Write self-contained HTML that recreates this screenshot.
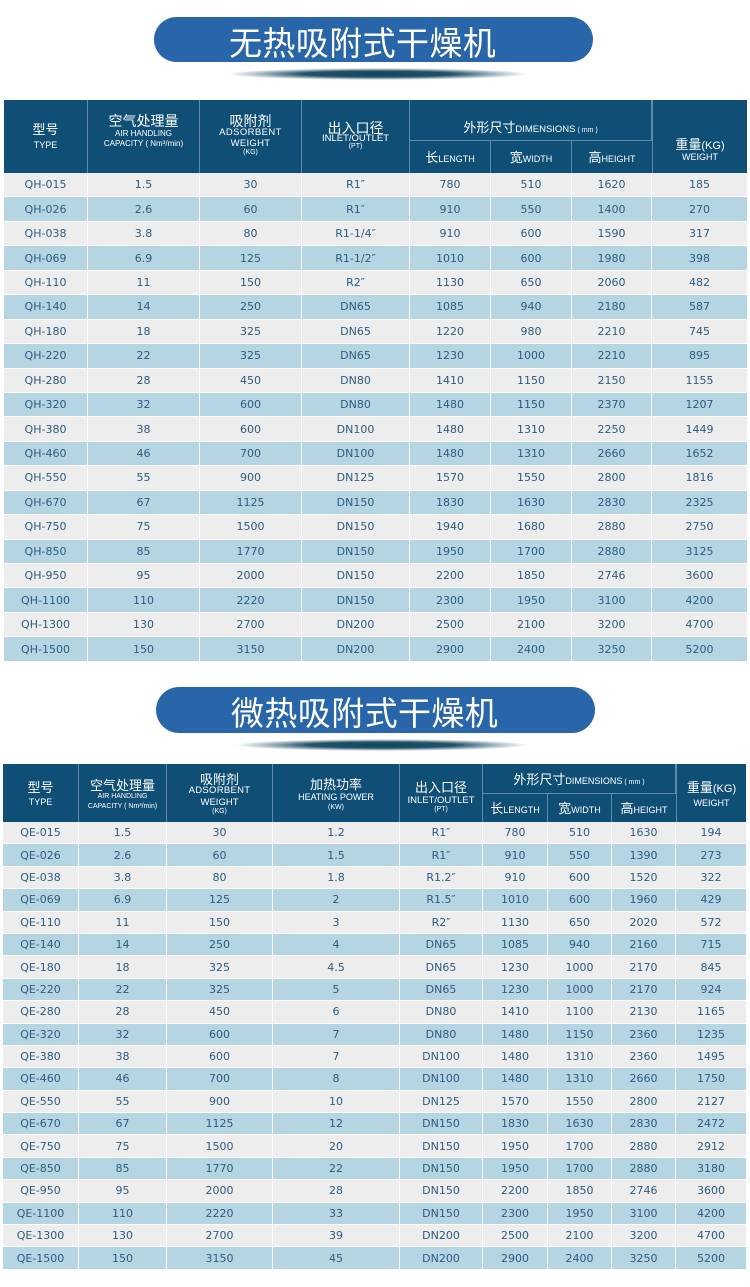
<!DOCTYPE html>
<html><head><meta charset="utf-8">
<style>
*{margin:0;padding:0;box-sizing:border-box}
html,body{width:750px;height:1287px;background:#fff;overflow:hidden;position:relative;font-family:"Liberation Sans","Noto Sans CJK SC",sans-serif}
.pill{position:absolute;background:#2866a9;border-radius:24px}
.ptxt{position:absolute;color:#fff;font-family:"Noto Sans CJK SC","WenQuanYi Zen Hei",sans-serif;font-size:33px;line-height:46px;white-space:nowrap;letter-spacing:0.4px}
.shadow{position:absolute;background:radial-gradient(ellipse closest-side,rgba(16,68,92,1) 0%,rgba(16,68,92,.92) 50%,rgba(16,68,92,.35) 80%,rgba(16,68,92,0) 100%)}
.g{position:absolute;display:grid}
.g>div.h{background:#0f4f76;color:#fff;display:flex;flex-direction:column;align-items:center;justify-content:center;text-align:center;border-right:1px solid rgba(255,255,255,.35);white-space:nowrap}
.g>div.h.last{border-right:none}
.h .cn{font-family:"Liberation Sans","Noto Sans CJK SC",sans-serif;font-size:13px}
.h .en{font-size:9px}
.h .sm{font-size:7px}
.r{display:contents}
.r>div{display:flex;align-items:center;justify-content:center;color:#2e5b80;font-family:"DejaVu Sans","Liberation Sans",sans-serif;font-size:11px;border-right:1px solid #fff;border-bottom:1px solid #fff;white-space:nowrap}
.r>div:last-child{border-right:none}
.r.a>div{background:#ededed}
.r.b>div{background:#b6d5e3}
.s{border-top:1px solid rgba(255,255,255,.35)}
</style></head><body>

<!-- Title 1 -->
<div class="pill" style="left:154px;top:17px;width:439px;height:45px"></div>
<div class="ptxt" style="left:229px;top:18px">无热吸附式干燥机</div>
<div class="shadow" style="left:228px;top:68px;width:300px;height:12px"></div>

<!-- Table 1 -->
<div class="g" style="left:4px;top:100px;width:743px;grid-template-columns:84px 112px 102px 108px 81px 81px 80px 95px;grid-template-rows:40px 33px repeat(20,24.45px)">
  <div class="h" style="grid-row:1/3;grid-column:1"><span class="cn" style="line-height:16px">型号</span><span class="en" style="line-height:14px">TYPE</span></div>
  <div class="h" style="grid-row:1/3;grid-column:2;padding-bottom:11px"><span class="cn" style="line-height:16px;font-size:14px">空气处理量</span><span style="font-size:8px;line-height:10px">AIR HANDLING</span><span style="font-size:8px;line-height:10px">CAPACITY ( Nm³/min)</span></div>
  <div class="h" style="grid-row:1/3;grid-column:3;padding-bottom:3px"><span class="cn" style="line-height:14px;font-size:14px">吸附剂</span><span class="en" style="line-height:9px;font-size:9.5px;letter-spacing:.4px">ADSORBENT</span><span class="en" style="line-height:13px;font-size:9.5px;letter-spacing:.3px">WEIGHT</span><span class="sm" style="line-height:6px">(KG)</span></div>
  <div class="h" style="grid-row:1/3;grid-column:4"><span class="cn" style="line-height:12px;font-size:14px">出入口径</span><span class="en" style="line-height:9px;font-size:9.5px">INLET/OUTLET</span><span class="sm" style="line-height:8px">(PT)</span></div>
  <div class="h" style="grid-row:1;grid-column:5/8;padding-top:14px"><span><span class="cn">外形尺寸</span><span style="font-size:9.5px">DIMENSIONS</span><span class="sm"> ( mm )</span></span></div>
  <div class="h last" style="grid-row:1/3;grid-column:8;padding-top:27px;border-left:1px solid rgba(255,255,255,.35)"><span class="cn" style="line-height:12px">重量<span style="font-size:11px">(KG)</span></span><span class="en" style="line-height:10px">WEIGHT</span></div>
  <div class="h s" style="grid-row:2;grid-column:5"><span><span class="cn">长</span><span class="en">LENGTH</span></span></div>
  <div class="h s" style="grid-row:2;grid-column:6"><span><span class="cn">宽</span><span class="en">WIDTH</span></span></div>
  <div class="h s" style="grid-row:2;grid-column:7;border-right:none"><span><span class="cn">高</span><span class="en">HEIGHT</span></span></div>

  <div class="r a"><div>QH-015</div><div>1.5</div><div>30</div><div>R1″</div><div>780</div><div>510</div><div>1620</div><div>185</div></div>
  <div class="r b"><div>QH-026</div><div>2.6</div><div>60</div><div>R1″</div><div>910</div><div>550</div><div>1400</div><div>270</div></div>
  <div class="r a"><div>QH-038</div><div>3.8</div><div>80</div><div>R1-1/4″</div><div>910</div><div>600</div><div>1590</div><div>317</div></div>
  <div class="r b"><div>QH-069</div><div>6.9</div><div>125</div><div>R1-1/2″</div><div>1010</div><div>600</div><div>1980</div><div>398</div></div>
  <div class="r a"><div>QH-110</div><div>11</div><div>150</div><div>R2″</div><div>1130</div><div>650</div><div>2060</div><div>482</div></div>
  <div class="r b"><div>QH-140</div><div>14</div><div>250</div><div>DN65</div><div>1085</div><div>940</div><div>2180</div><div>587</div></div>
  <div class="r a"><div>QH-180</div><div>18</div><div>325</div><div>DN65</div><div>1220</div><div>980</div><div>2210</div><div>745</div></div>
  <div class="r b"><div>QH-220</div><div>22</div><div>325</div><div>DN65</div><div>1230</div><div>1000</div><div>2210</div><div>895</div></div>
  <div class="r a"><div>QH-280</div><div>28</div><div>450</div><div>DN80</div><div>1410</div><div>1150</div><div>2150</div><div>1155</div></div>
  <div class="r b"><div>QH-320</div><div>32</div><div>600</div><div>DN80</div><div>1480</div><div>1150</div><div>2370</div><div>1207</div></div>
  <div class="r a"><div>QH-380</div><div>38</div><div>600</div><div>DN100</div><div>1480</div><div>1310</div><div>2250</div><div>1449</div></div>
  <div class="r b"><div>QH-460</div><div>46</div><div>700</div><div>DN100</div><div>1480</div><div>1310</div><div>2660</div><div>1652</div></div>
  <div class="r a"><div>QH-550</div><div>55</div><div>900</div><div>DN125</div><div>1570</div><div>1550</div><div>2800</div><div>1816</div></div>
  <div class="r b"><div>QH-670</div><div>67</div><div>1125</div><div>DN150</div><div>1830</div><div>1630</div><div>2830</div><div>2325</div></div>
  <div class="r a"><div>QH-750</div><div>75</div><div>1500</div><div>DN150</div><div>1940</div><div>1680</div><div>2880</div><div>2750</div></div>
  <div class="r b"><div>QH-850</div><div>85</div><div>1770</div><div>DN150</div><div>1950</div><div>1700</div><div>2880</div><div>3125</div></div>
  <div class="r a"><div>QH-950</div><div>95</div><div>2000</div><div>DN150</div><div>2200</div><div>1850</div><div>2746</div><div>3600</div></div>
  <div class="r b"><div>QH-1100</div><div>110</div><div>2220</div><div>DN150</div><div>2300</div><div>1950</div><div>3100</div><div>4200</div></div>
  <div class="r a"><div>QH-1300</div><div>130</div><div>2700</div><div>DN200</div><div>2500</div><div>2100</div><div>3200</div><div>4700</div></div>
  <div class="r b"><div>QH-1500</div><div>150</div><div>3150</div><div>DN200</div><div>2900</div><div>2400</div><div>3250</div><div>5200</div></div>
</div>

<!-- Title 2 -->
<div class="pill" style="left:156px;top:687px;width:439px;height:46px"></div>
<div class="ptxt" style="left:231px;top:688px">微热吸附式干燥机</div>
<div class="shadow" style="left:236px;top:739px;width:292px;height:12px"></div>

<!-- Table 2 -->
<div class="g" style="left:3px;top:764px;width:743px;grid-template-columns:76px 88px 106px 127px 83px 65px 64px 64px 70px;grid-template-rows:29px 29px repeat(20,22.4px)">
  <div class="h" style="grid-row:1/3;grid-column:1;padding-top:4px"><span class="cn" style="line-height:14px">型号</span><span class="en" style="line-height:14px">TYPE</span></div>
  <div class="h" style="grid-row:1/3;grid-column:2;padding-top:5px"><span class="cn" style="line-height:12px">空气处理量</span><span style="font-size:7px;line-height:10px">AIR HANDLING</span><span style="font-size:7px;line-height:10px">CAPACITY ( Nm³/min)</span></div>
  <div class="h" style="grid-row:1/3;grid-column:3;padding-top:2px"><span class="cn" style="line-height:12px">吸附剂</span><span class="en" style="line-height:10px;font-size:9.5px;letter-spacing:.3px">ADSORBENT</span><span class="en" style="line-height:13px;font-size:9.5px">WEIGHT</span><span class="sm" style="line-height:6px">(KG)</span></div>
  <div class="h" style="grid-row:1/3;grid-column:4;padding-top:6px"><span class="cn" style="line-height:12px">加热功率</span><span class="en" style="line-height:12px">HEATING POWER</span><span class="sm" style="line-height:10px">(KW)</span></div>
  <div class="h" style="grid-row:1/3;grid-column:5;padding-top:8px"><span class="cn" style="line-height:14px">出入口径</span><span class="en" style="line-height:11px;font-size:9.5px">INLET/OUTLET</span><span class="sm" style="line-height:7px">(PT)</span></div>
  <div class="h" style="grid-row:1;grid-column:6/9"><span><span class="cn">外形尺寸</span><span class="en">DIMENSIONS</span><span class="sm"> ( mm )</span></span></div>
  <div class="h last" style="grid-row:1/3;grid-column:9;padding-top:4px;border-left:1px solid rgba(255,255,255,.35)"><span class="cn" style="line-height:14px">重量<span style="font-size:11px">(KG)</span></span><span class="en" style="line-height:14px">WEIGHT</span></div>
  <div class="h s" style="grid-row:2;grid-column:6"><span><span class="cn">长</span><span class="en">LENGTH</span></span></div>
  <div class="h s" style="grid-row:2;grid-column:7"><span><span class="cn">宽</span><span class="en">WIDTH</span></span></div>
  <div class="h s" style="grid-row:2;grid-column:8;border-right:none"><span><span class="cn">高</span><span class="en">HEIGHT</span></span></div>

  <div class="r a"><div>QE-015</div><div>1.5</div><div>30</div><div>1.2</div><div>R1″</div><div>780</div><div>510</div><div>1630</div><div>194</div></div>
  <div class="r b"><div>QE-026</div><div>2.6</div><div>60</div><div>1.5</div><div>R1″</div><div>910</div><div>550</div><div>1390</div><div>273</div></div>
  <div class="r a"><div>QE-038</div><div>3.8</div><div>80</div><div>1.8</div><div>R1.2″</div><div>910</div><div>600</div><div>1520</div><div>322</div></div>
  <div class="r b"><div>QE-069</div><div>6.9</div><div>125</div><div>2</div><div>R1.5″</div><div>1010</div><div>600</div><div>1960</div><div>429</div></div>
  <div class="r a"><div>QE-110</div><div>11</div><div>150</div><div>3</div><div>R2″</div><div>1130</div><div>650</div><div>2020</div><div>572</div></div>
  <div class="r b"><div>QE-140</div><div>14</div><div>250</div><div>4</div><div>DN65</div><div>1085</div><div>940</div><div>2160</div><div>715</div></div>
  <div class="r a"><div>QE-180</div><div>18</div><div>325</div><div>4.5</div><div>DN65</div><div>1230</div><div>1000</div><div>2170</div><div>845</div></div>
  <div class="r b"><div>QE-220</div><div>22</div><div>325</div><div>5</div><div>DN65</div><div>1230</div><div>1000</div><div>2170</div><div>924</div></div>
  <div class="r a"><div>QE-280</div><div>28</div><div>450</div><div>6</div><div>DN80</div><div>1410</div><div>1100</div><div>2130</div><div>1165</div></div>
  <div class="r b"><div>QE-320</div><div>32</div><div>600</div><div>7</div><div>DN80</div><div>1480</div><div>1150</div><div>2360</div><div>1235</div></div>
  <div class="r a"><div>QE-380</div><div>38</div><div>600</div><div>7</div><div>DN100</div><div>1480</div><div>1310</div><div>2360</div><div>1495</div></div>
  <div class="r b"><div>QE-460</div><div>46</div><div>700</div><div>8</div><div>DN100</div><div>1480</div><div>1310</div><div>2660</div><div>1750</div></div>
  <div class="r a"><div>QE-550</div><div>55</div><div>900</div><div>10</div><div>DN125</div><div>1570</div><div>1550</div><div>2800</div><div>2127</div></div>
  <div class="r b"><div>QE-670</div><div>67</div><div>1125</div><div>12</div><div>DN150</div><div>1830</div><div>1630</div><div>2830</div><div>2472</div></div>
  <div class="r a"><div>QE-750</div><div>75</div><div>1500</div><div>20</div><div>DN150</div><div>1950</div><div>1700</div><div>2880</div><div>2912</div></div>
  <div class="r b"><div>QE-850</div><div>85</div><div>1770</div><div>22</div><div>DN150</div><div>1950</div><div>1700</div><div>2880</div><div>3180</div></div>
  <div class="r a"><div>QE-950</div><div>95</div><div>2000</div><div>28</div><div>DN150</div><div>2200</div><div>1850</div><div>2746</div><div>3600</div></div>
  <div class="r b"><div>QE-1100</div><div>110</div><div>2220</div><div>33</div><div>DN150</div><div>2300</div><div>1950</div><div>3100</div><div>4200</div></div>
  <div class="r a"><div>QE-1300</div><div>130</div><div>2700</div><div>39</div><div>DN200</div><div>2500</div><div>2100</div><div>3200</div><div>4700</div></div>
  <div class="r b"><div>QE-1500</div><div>150</div><div>3150</div><div>45</div><div>DN200</div><div>2900</div><div>2400</div><div>3250</div><div>5200</div></div>
</div>

</body></html>
